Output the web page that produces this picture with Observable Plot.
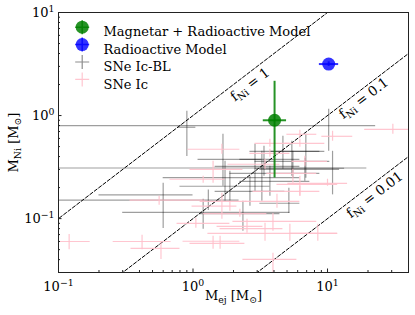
<!DOCTYPE html>
<html><head><meta charset="utf-8">
<script src="https://cdn.jsdelivr.net/npm/d3@7"></script>
<script src="https://cdn.jsdelivr.net/npm/@observablehq/plot@0.6"></script>
<style>body{margin:0;background:#fff} svg text{font-family:"DejaVu Serif",serif}</style>
</head><body><div id="chart"></div>
<script>
// ---- data ----
const xTickValues = [0.1, 1, 10];
const xTickLabels = ["10^{−1}", "10^{0}", "10^{1}"];
const yTickValues = [0.1, 1, 10];
const yTickLabels = ["10^{−1}", "10^{0}", "10^{1}"];
const xMinor = [0.2,0.3,0.4,0.5,0.6,0.7,0.8,0.9,2,3,4,5,6,7,8,9,20,30,40];
const yMinor = [0.03,0.04,0.05,0.06,0.07,0.08,0.09,0.2,0.3,0.4,0.5,0.6,0.7,0.8,0.9,2,3,4,5,6,7,8,9];

const fValues = [1, 0.1, 0.01];
const fLabelText = ["f_{Ni} = 1", "f_{Ni} = 0.1", "f_{Ni} = 0.01"];
const fLabelX = [2.65, 18.6, 22.4];
const fLabelY = [2.0, 1.47, 0.17];
const lineEnds = [0.01, 100];

// SNe Ic-BL
const icblX   = [0.90, 10.2, 10.9, 0.60, 1.19, 1.73, 1.67, 2.89, 3.25, 4.66, 5.43, 6.90, 6.78, 5.16, 2.35, 5.53, 1.88, 2.65, 3.73, 3.37, 1.30];
const icblXLo = [0.77, 0.05, 0.05, 0.20, 0.30, 0.60, 1.09, 1.46, 1.88, 2.65, 2.89, 3.73, 3.14, 3.14, 1.13, 2.89, 0.80, 1.46, 2.23, 2.23, 0.05];
const icblXHi = [1.05, 22.8, 19.6, 1.00, 5.25, 6.23, 3.25, 6.23, 8.77, 8.77, 10.4, 9.55, 12.3, 6.23, 4.43, 13.4, 3.73, 4.82, 7.39, 6.23, 2.20];
const icblY   = [0.77, 0.80, 0.31, 0.17, 0.115, 0.25, 0.376, 0.322, 0.275, 0.45, 0.36, 0.45, 0.301, 0.141, 0.112, 0.308, 0.206, 0.184, 0.23, 0.376, 0.151];
const icblYLo = [0.40, 0.45, 0.17, 0.080, 0.079, 0.147, 0.206, 0.184, 0.147, 0.301, 0.257, 0.246, 0.23, 0.112, 0.0753, 0.246, 0.147, 0.132, 0.165, 0.257, 0.12];
const icblYHi = [1.10, 1.15, 0.45, 0.22, 0.154, 0.36, 0.658, 0.527, 0.45, 0.629, 0.563, 0.658, 0.385, 0.197, 0.147, 0.45, 0.288, 0.257, 0.322, 0.503, 0.19];

// SNe Ic
const icX   = [0.12, 0.418, 0.578, 0.56, 1.64, 30.6, 10.9, 6.23, 1.19, 1.41, 3.43, 6.78, 10.0, 6.23, 1.64, 1.88, 2.23, 2.52, 3.43, 1.41, 1.59, 3.93, 5.25, 8.47, 4.21, 3.93, 6.23, 3.73, 6.23, 1.05, 5.53, 3.73];
const icXLo = [0.099, 0.255, 0.346, 0.34, 0.918, 18.9, 9.07, 4.82, 0.674, 0.95, 1.82, 5.43, 5.07, 4.21, 1.13, 0.984, 1.19, 1.51, 1.59, 0.843, 0.95, 2.35, 1.29, 5.25, 2.43, 1.98, 2.79, 2.65, 4.99, 0.761, 3.54, 2.89];
const icXHi = [0.172, 0.687, 0.80, 1.23, 2.23, 40, 15.4, 9.55, 1.73, 2.35, 4.43, 10.0, 14.1, 11.9, 2.52, 2.12, 3.54, 3.31, 4.66, 2.23, 2.43, 5.92, 11.9, 11.9, 6.23, 8.32, 8.77, 5.25, 8.32, 1.88, 8.32, 5.25];
const icY   = [0.060, 0.060, 0.0515, 0.151, 0.471, 0.736, 0.629, 0.538, 0.241, 0.301, 0.337, 0.36, 0.22, 0.215, 0.147, 0.132, 0.112, 0.0842, 0.080, 0.0603, 0.0576, 0.0403, 0.072, 0.072, 0.147, 0.0942, 0.184, 0.43, 0.658, 0.09, 0.275, 0.538];
const icYLo = [0.050, 0.050, 0.040, 0.135, 0.421, 0.658, 0.563, 0.492, 0.22, 0.22, 0.301, 0.322, 0.206, 0.165, 0.0985, 0.118, 0.103, 0.072, 0.0603, 0.0503, 0.0503, 0.028, 0.0603, 0.0603, 0.126, 0.0753, 0.165, 0.394, 0.602, 0.0805, 0.22, 0.492];
const icYHi = [0.070, 0.069, 0.060, 0.165, 0.527, 0.823, 0.704, 0.589, 0.257, 0.36, 0.376, 0.403, 0.241, 0.257, 0.176, 0.147, 0.123, 0.0985, 0.090, 0.0673, 0.0673, 0.046, 0.0881, 0.0881, 0.172, 0.112, 0.206, 0.471, 0.72, 0.101, 0.301, 0.589];

// Models
const magX = [4.04], magXLo = [3.33], magXHi = [4.96];
const magY = [0.90], magYLo = [0.248], magYHi = [2.15];
const radX = [10.2], radXLo = [8.7], radXHi = [12.1];
const radY = [3.16], radYLo = [3.0], radYHi = [3.32];

const legendLabels = ["Magnetar + Radioactive Model", "Radioactive Model", "SNe Ic-BL", "SNe Ic"];
const legendColors = ["green", "#0000ff", "black", "pink"];

// ---- build tables ----
const tbl = (x, xl, xh, y, yl, yh) => x.map((v, i) => ({x: v, xlo: xl[i], xhi: xh[i], y: y[i], ylo: yl[i], yhi: yh[i]}));
const icbl = tbl(icblX, icblXLo, icblXHi, icblY, icblYLo, icblYHi);
const ic = tbl(icX, icXLo, icXHi, icY, icYLo, icYHi);
const mag = tbl(magX, magXLo, magXHi, magY, magYLo, magYHi);
const rad = tbl(radX, radXLo, radXHi, radY, radYLo, radYHi);
const fLines = fValues.flatMap(f => lineEnds.map(x => ({f, x, y: f * x})));
const fLabels = fLabelText.map((t, i) => ({t, x: fLabelX[i], y: fLabelY[i]}));

const W = 415, H = 315, mL = 58, mR = 7, mT = 12, mB = 43;
const pw = W - mL - mR, ph = H - mT - mB;
const serif = '"DejaVu Serif", serif';

const plusSym = {draw(ctx, size) { const r = Math.sqrt(size / Math.PI); ctx.moveTo(-r, 0); ctx.lineTo(r, 0); ctx.moveTo(0, -r); ctx.lineTo(0, r); }};

const legendMarks = [];
const legY0 = 14.7, legStep = 17.4;
legendLabels.forEach((lab, i) => {
  const dy = legY0 + i * legStep;
  if (i < 2) {
    legendMarks.push(Plot.dot([0], {frameAnchor: "top-left", dx: 23.7, dy, r: 6.5, fill: legendColors[i], fillOpacity: i === 0 ? 0.85 : 0.8, stroke: "none"}));
    legendMarks.push(Plot.dot([0], {frameAnchor: "top-left", dx: 23.7, dy, r: 7, symbol: plusSym, fill: "none", stroke: legendColors[i], strokeWidth: 1.5, strokeOpacity: 0.8}));
  } else {
    legendMarks.push(Plot.dot([0], {frameAnchor: "top-left", dx: 23.7, dy, r: 7, symbol: plusSym, fill: "none", stroke: legendColors[i], strokeWidth: 1.2, strokeOpacity: i === 2 ? 0.45 : 0.9}));
  }
  legendMarks.push(Plot.text([lab], {frameAnchor: "top-left", dx: 45, dy, text: d => d, textAnchor: "start", fontSize: 13, fontFamily: serif, fill: "black"}));
});

const chart = Plot.plot({
  width: W, height: H, marginLeft: mL, marginRight: mR, marginTop: mT, marginBottom: mB,
  style: {fontFamily: serif, fontSize: "12px", background: "white", color: "black"},
  x: {type: "log", domain: [0.1, 40], label: null},
  y: {type: "log", domain: [0.03, 10], label: null},
  marks: [
    Plot.line(fLines, {x: "x", y: "y", z: "f", stroke: "black", strokeWidth: 1, strokeDasharray: "3.5,2", clip: true}),
    Plot.ruleY(icbl, {y: "y", x1: "xlo", x2: "xhi", stroke: "black", strokeOpacity: 0.38, strokeWidth: 1.2, clip: true}),
    Plot.ruleX(icbl, {x: "x", y1: "ylo", y2: "yhi", stroke: "black", strokeOpacity: 0.38, strokeWidth: 1.2, clip: true}),
    Plot.ruleY(ic, {y: "y", x1: "xlo", x2: "xhi", stroke: "pink", strokeOpacity: 0.9, strokeWidth: 1.2, clip: true}),
    Plot.ruleX(ic, {x: "x", y1: "ylo", y2: "yhi", stroke: "pink", strokeOpacity: 0.9, strokeWidth: 1.2, clip: true}),
    Plot.ruleY(mag, {y: "y", x1: "xlo", x2: "xhi", stroke: "green", strokeOpacity: 0.85, strokeWidth: 2}),
    Plot.ruleX(mag, {x: "x", y1: "ylo", y2: "yhi", stroke: "green", strokeOpacity: 0.85, strokeWidth: 2}),
    Plot.dot(mag, {x: "x", y: "y", r: 6.5, fill: "green", fillOpacity: 0.85}),
    Plot.ruleY(rad, {y: "y", x1: "xlo", x2: "xhi", stroke: "#0000ff", strokeOpacity: 0.8, strokeWidth: 2}),
    Plot.ruleX(rad, {x: "x", y1: "ylo", y2: "yhi", stroke: "#0000ff", strokeOpacity: 0.8, strokeWidth: 2}),
    Plot.dot(rad, {x: "x", y: "y", r: 6.5, fill: "#0000ff", fillOpacity: 0.8}),
    Plot.text(fLabels, {x: "x", y: "y", text: "t", rotate: -37.4, fontSize: 13.5, fontFamily: serif, fill: "black"}),
    // ticks (inward)
    Plot.tickX(xTickValues, {x: d => d, insetTop: ph - 3.5, stroke: "#222"}),
    Plot.tickX(xMinor, {x: d => d, insetTop: ph - 2, stroke: "#222"}),
    Plot.tickY(yTickValues, {y: d => d, insetRight: pw - 3.5, stroke: "#222"}),
    Plot.tickY(yMinor, {y: d => d, insetRight: pw - 2, stroke: "#222"}),
    Plot.axisX({ticks: xTickValues, tickFormat: d => xTickLabels[xTickValues.indexOf(d)], tickSize: 0, tickPadding: 9, fontSize: 13, fontFamily: serif, label: null}),
    Plot.axisY({ticks: yTickValues, tickFormat: d => yTickLabels[yTickValues.indexOf(d)], tickSize: 0, tickPadding: 4, fontSize: 13, fontFamily: serif, label: null}),
    Plot.text(["M_{ej} [M_{⊙}]"], {frameAnchor: "bottom", dy: 27, text: d => d, fontSize: 13, fontFamily: serif, textAnchor: "middle", fill: "black"}),
    Plot.text(["M_{Ni} [M_{⊙}]"], {frameAnchor: "left", dx: -45, text: d => d, rotate: -90, fontSize: 13, fontFamily: serif, textAnchor: "middle", fill: "black"}),
    ...legendMarks,
    Plot.frame({stroke: "#222", strokeWidth: 1})
  ]
});

// convert _{..} and ^{..} to sub/superscript tspans
d3.select(chart).selectAll("text").each(function() {
  const t = this;
  const s = t.textContent;
  if (!/[_^]\{/.test(s)) return;
  while (t.firstChild) t.removeChild(t.firstChild);
  const parts = s.split(/([_^]\{[^}]*\})/);
  let shift = 0;
  for (const p of parts) {
    if (!p) continue;
    const m = p.match(/^([_^])\{([^}]*)\}$/);
    const ts = document.createElementNS("http://www.w3.org/2000/svg", "tspan");
    if (m) {
      const d = m[1] === "_" ? 3 : -5;
      ts.setAttribute("dy", d - shift); shift = d;
      ts.style.fontSize = "72%";
      ts.textContent = m[2];
    } else {
      ts.setAttribute("dy", -shift); shift = 0;
      ts.textContent = p;
    }
    t.appendChild(ts);
  }
});

document.getElementById("chart").appendChild(chart);
</script>
</body></html>
